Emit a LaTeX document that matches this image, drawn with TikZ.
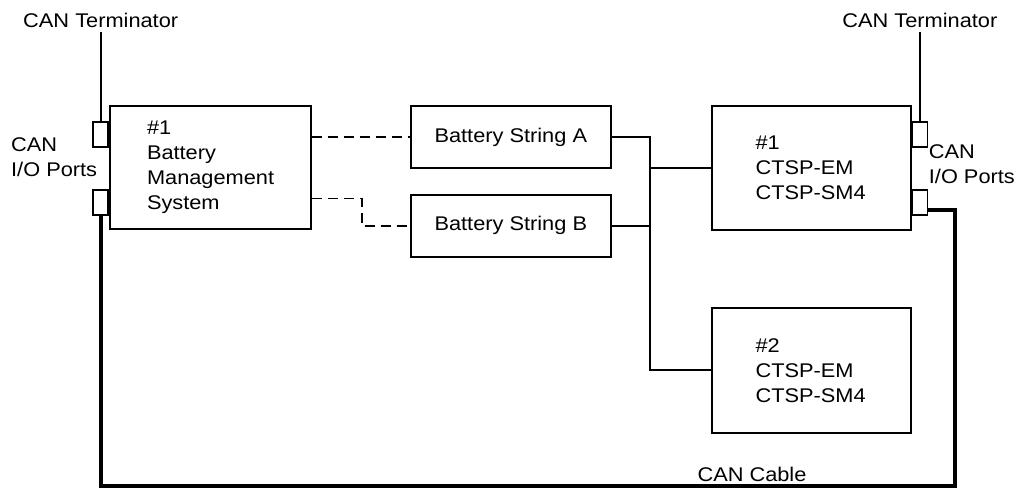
\documentclass[tikz,border=0pt]{standalone}
\usepackage{fontspec}
\setmainfont{Liberation Sans}[FakeStretch=1.1]
\usetikzlibrary{positioning}

\begin{document}
\begin{tikzpicture}[x=1pt,y=-1pt,font=\fontsize{19.8}{25}\selectfont]
\tikzstyle{every path}=[line width=1.8pt];
\tikzstyle{box}=[draw,rectangle,inner sep=0pt];
\tikzstyle{port}=[draw,rectangle,minimum width=15pt,minimum height=25pt,inner sep=0pt];
\tikzstyle{dashline}=[line width=1.4pt,dash pattern=on 10pt off 6pt];
\tikzstyle{cable}=[line width=4pt];
\useasboundingbox (0,0) rectangle (1023,488);
\node[box, text width=127pt, inner xsep=37pt, minimum height=123pt, align=left] (bms) at (210.5,167.5) {\#1\\Battery\\Management\\System};
\node[box, minimum width=200pt, minimum height=62pt] (strA) [right=98pt of bms.north east, anchor=north west] {Battery String A};
\node[box, minimum width=200pt, minimum height=62pt] (strB) [below=25pt of strA] {Battery String B};
\node[box, text width=111pt, inner xsep=44pt, minimum height=124pt, align=left] (ctsp1) [right=99pt of strA.north east, anchor=north west] {\#1\\CTSP-EM\\CTSP-SM4};
\node[box, text width=111pt, inner xsep=44pt, minimum height=125pt, align=left] (ctsp2) [below=76pt of ctsp1] {\#2\\CTSP-EM\\CTSP-SM4};
% CAN ports
\node[port] (pl1) [below left=16pt and 0pt of bms.north west, anchor=north east] {};
\node[port] (pl2) [below=41pt of pl1] {};
\node[port] (pr1) [below right=16pt and 0pt of ctsp1.north east, anchor=north west] {};
\node[port] (pr2) [below=41pt of pr1] {};
\node (termL) [above=89pt of pl1] {CAN Terminator};
\node (termR) [above=89pt of pr1] {CAN Terminator};
\node[align=left, inner sep=0pt, anchor=east] (ioL) at (98,157) {CAN\\I/O Ports};
\node[align=left, inner sep=0pt, anchor=west] (ioR) at (928,164) {CAN\\I/O Ports};
\path[line width=1.2pt] (termL) edge (pl1);
\path[line width=1.2pt] (termR) edge (pr1);
% links
\draw[dashline] (strA.west -| bms.east) -- (strA.west);
\draw[dashline] ([yshift=-31pt]bms.east) -- ++(50,0) |- (strB.west);
\draw (strA.east) -- ++(38,0) coordinate (bus) |- (ctsp2.west);
\draw (strB.east) -- (strB.east -| bus);
\draw (ctsp1.west) -- (ctsp1.west -| bus);
% CAN cable
\coordinate (cableR) at (955,486);
\draw[cable] (pl2.south) |- (cableR) |- ([yshift=-8pt]pr2.east);
\node (cablelbl) at (752,474) {CAN Cable};
\end{tikzpicture}
\end{document}
